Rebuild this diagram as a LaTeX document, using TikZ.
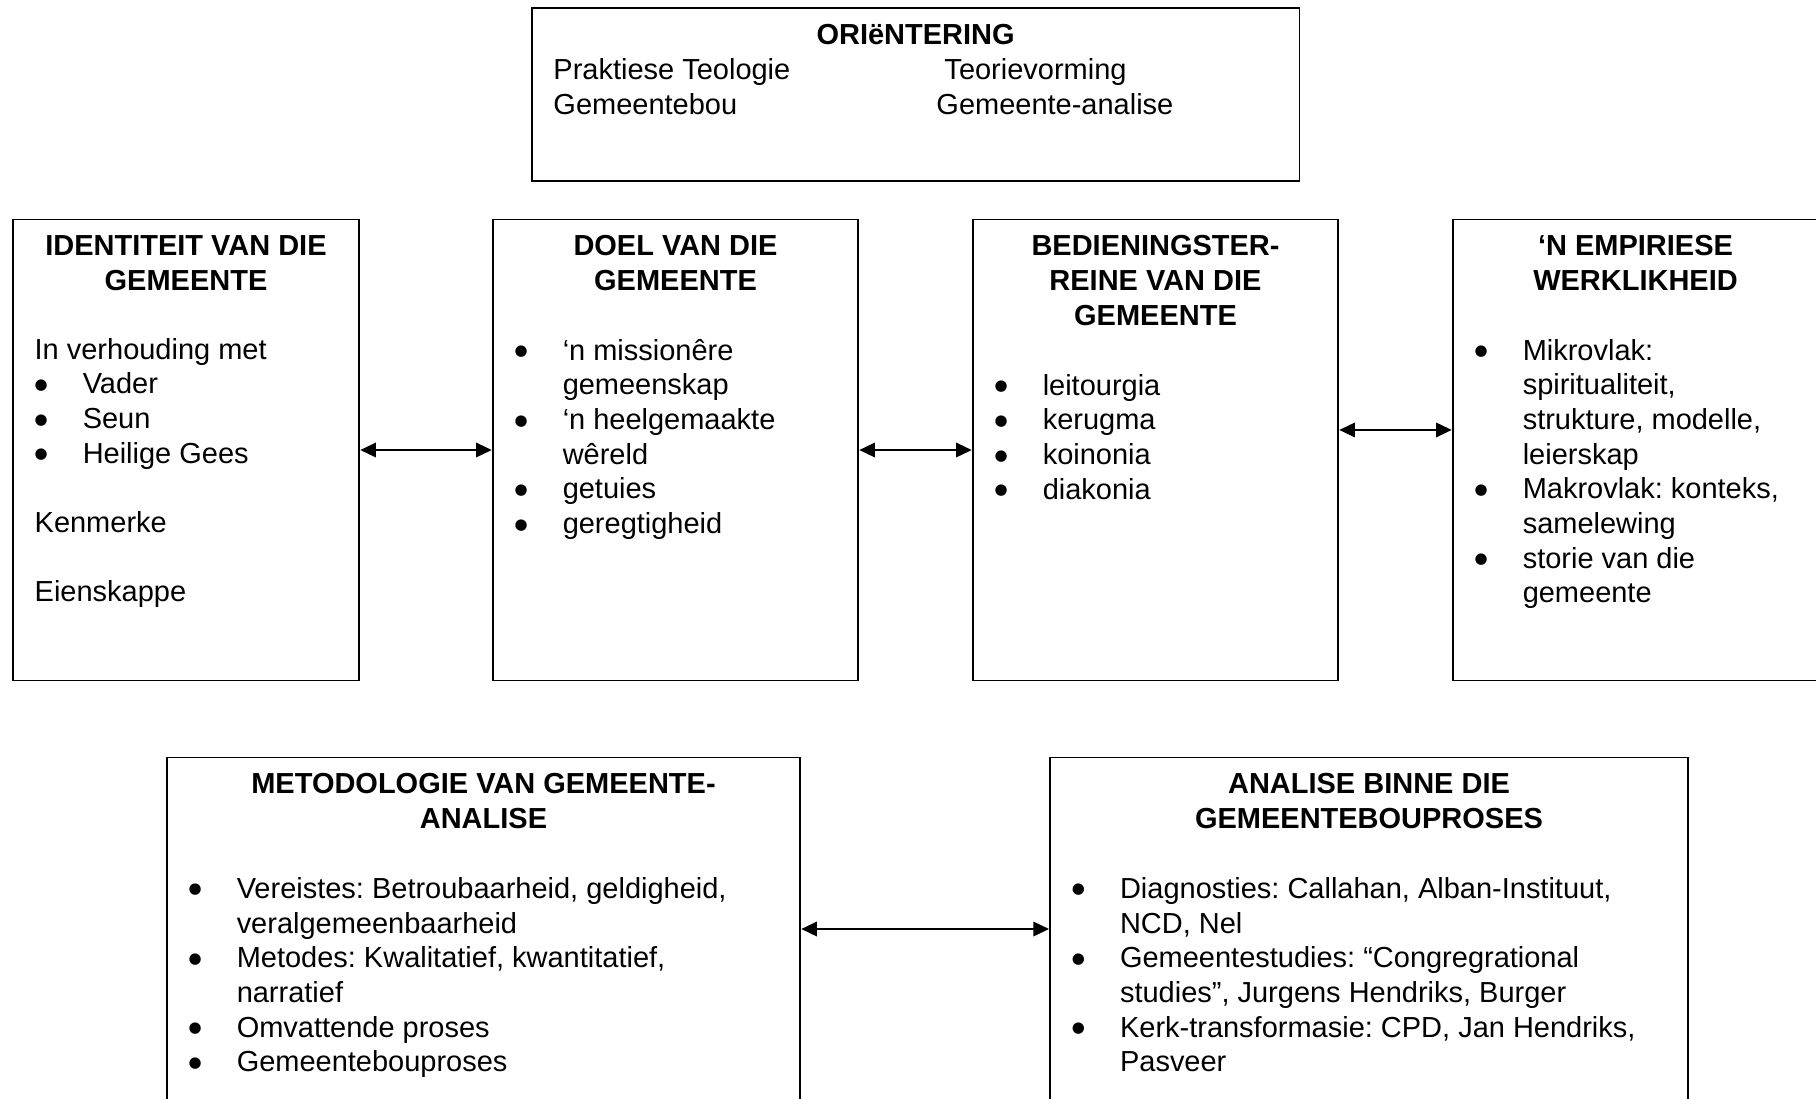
\documentclass[tikz,border=0pt]{standalone}
\usepackage{fontspec}
\setmainfont{Liberation Sans}
\newfontfamily\simbool{DejaVu Sans}
\usetikzlibrary{positioning,fit,arrows.meta}
\frenchspacing

\newcommand{\bul}{\makebox[19.9pt][l]{\raisebox{1.8pt}{\fontsize{6.2}{6.2}\simbool ●}}}
\newcommand{\inn}{\hspace*{19.9pt}}
\newcommand{\kopblok}[1]{\begin{tabular}[t]{@{}c@{}}#1\end{tabular}}
\newcommand{\lysblok}[1]{\begin{tabular}[t]{@{}l@{}}#1\end{tabular}}

\tikzset{
  every node/.style={font=\fontsize{12}{14.37}\selectfont},
  kas/.style={draw, line width=0.8pt, inner sep=0pt},
  kop/.style={anchor=base, inner sep=0pt, font=\fontsize{12}{14.37}\selectfont\bfseries},
  lys/.style={anchor=base west, inner sep=0pt},
  pyl/.style={{Triangle[length=6.5pt,width=6pt]}-{Triangle[length=6.5pt,width=6pt]}, line width=0.8pt}
}

\begin{document}
\begin{tikzpicture}[x=0.414pt, y=-0.414pt]
    \useasboundingbox (0,0) rectangle (1816,1098);
    \clip (0,0) rectangle (1816,1098);
    % orientering
    \node[kas, fit={(531.7,8) (1299.5,180.7)}] (ori) {};
    \node[kop] (orit) at ([yshift=-15.4pt]ori.north) {ORIëNTERING};
    \node[lys] (ori1) at (553,79.3) {\lysblok{Praktiese Teologie\\Gemeentebou}};
    \node[lys] (ori2) at (944,79.3) {Teorievorming};
    \node[lys] (ori3) at (936,114) {Gemeente-analise};
    % middelste ry
    \node[kas, fit={(12.7,219.5) (359.3,680.5)}] (idt) {};
    \node[kas, fit={(492.7,219.5) (858.3,680.5)}] (doel) {};
    \node[kas, fit={(972.7,219.5) (1338.3,680.5)}] (bed) {};
    \node[kas, fit={(1452.7,219.5) (1818.3,680.5)}] (emp) {};
    \node[kop] (idtt) at ([yshift=-15.4pt]idt.north) {\kopblok{IDENTITEIT VAN DIE\\GEMEENTE}};
    \node[kop] (doelt) at ([yshift=-15.4pt]doel.north) {\kopblok{DOEL VAN DIE\\GEMEENTE}};
    \node[kop] (bedt) at ([yshift=-15.4pt]bed.north) {\kopblok{BEDIENINGSTER-\\REINE VAN DIE\\GEMEENTE}};
    \node[kop] (empt) at ([yshift=-15.4pt]emp.north) {\kopblok{‘N EMPIRIESE\\WERKLIKHEID}};
    \node[lys] (idtl) at (34.2,359) {\lysblok{In verhouding met\\\bul Vader\\\bul Seun\\\bul Heilige Gees\\\\Kenmerke\\\\Eienskappe}};
    \node[lys] (doell) at (514.2,360) {\lysblok{\bul ‘n missionêre\\\inn gemeenskap\\\bul ‘n heelgemaakte\\\inn wêreld\\\bul getuies\\\bul geregtigheid}};
    \node[lys] (bedl) at (994.2,395) {\lysblok{\bul leitourgia\\\bul kerugma\\\bul koinonia\\\bul diakonia}};
    \node[lys] (empl) at (1474.2,360) {\lysblok{\bul Mikrovlak:\\\inn spiritualiteit,\\\inn strukture, modelle,\\\inn leierskap\\\bul Makrovlak: konteks,\\\inn samelewing\\\bul storie van die\\\inn gemeente}};
    % onderste ry
    \node[kas, fit={(166.7,757.5) (800.3,1100.5)}] (met) {};
    \node[kas, fit={(1050,757.5) (1688,1100.5)}] (ana) {};
    \node[kop] (mett) at ([yshift=-15.4pt]met.north) {\kopblok{METODOLOGIE VAN GEMEENTE-\\ANALISE}};
    \node[kop] (anat) at ([yshift=-15.4pt]ana.north) {\kopblok{ANALISE BINNE DIE\\GEMEENTEBOUPROSES}};
    \node[lys] (metl) at (188.2,898.3) {\lysblok{\bul Vereistes: Betroubaarheid, geldigheid,\\\inn veralgemeenbaarheid\\\bul Metodes: Kwalitatief, kwantitatief,\\\inn narratief\\\bul Omvattende proses\\\bul Gemeentebouproses}};
    \node[lys] (anal) at (1071.5,898.3) {\lysblok{\bul Diagnosties: Callahan, Alban-Instituut,\\\inn NCD, Nel\\\bul Gemeentestudies: “Congregrational\\\inn studies”, Jurgens Hendriks, Burger\\\bul Kerk-transformasie: CPD, Jan Hendriks,\\\inn Pasveer}};
    % pyle
    \draw[pyl] (idt.east) -- (doel.west);
    \draw[pyl] (doel.east) -- (bed.west);
    \draw[pyl] ([yshift=8.3pt]bed.east) -- ([yshift=8.3pt]emp.west);
    \draw[pyl] (met.east) -- (ana.west);
\end{tikzpicture}
\end{document}
